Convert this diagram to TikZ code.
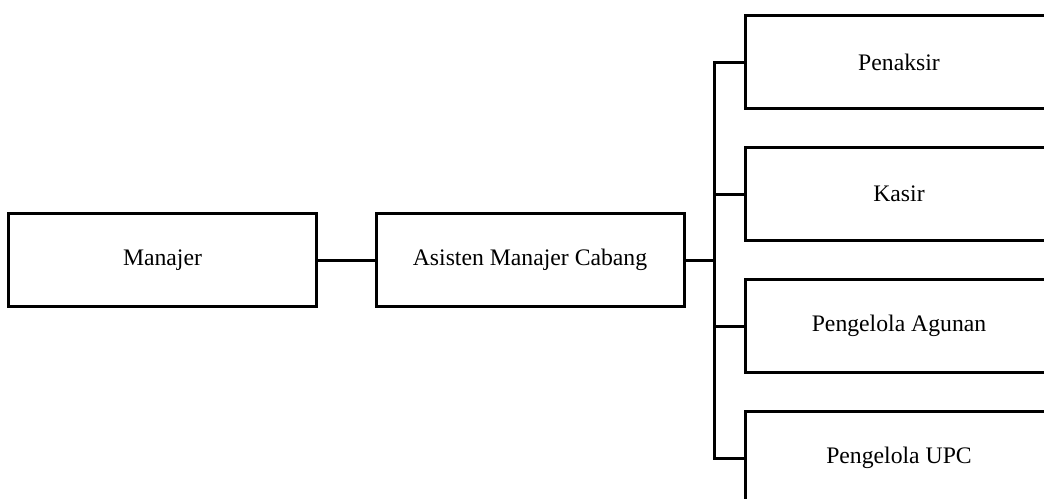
\documentclass[tikz,border=0pt]{standalone}
\usepackage{fontspec}
\setmainfont{Liberation Serif}
\begin{document}
\begin{tikzpicture}[x=1pt,y=-1pt,
  box/.style={draw=black,line width=3pt,minimum width=308pt,minimum height=93pt,inner sep=0pt,font=\fontsize{23.7}{28}\selectfont},
  conn/.style={line width=3pt}]
\useasboundingbox (0,0) rectangle (1044,498);
\clip (0,0) rectangle (1044,498);
\node[box] (man) at (162.5,260) {Manajer};
\node[box] (asm) at (530,260) {Asisten Manajer Cabang};
\node[box] (pen) at (899,62) {Penaksir};
\node[box] (kas) at (899,194) {Kasir};
\node[box] (agu) at (899,326) {Pengelola Agunan};
\node[box] (upc) at (899,458) {Pengelola UPC};
\coordinate (bus) at (714,260);
\draw[conn] (man.east) -- (asm.west);
\draw[conn] (asm.east) -- (bus);
\draw[conn] (pen.west) -| (bus |- upc.west) -- (upc.west);
\draw[conn] (bus |- kas.west) -- (kas.west);
\draw[conn] (bus |- agu.west) -- (agu.west);
\end{tikzpicture}
\end{document}
